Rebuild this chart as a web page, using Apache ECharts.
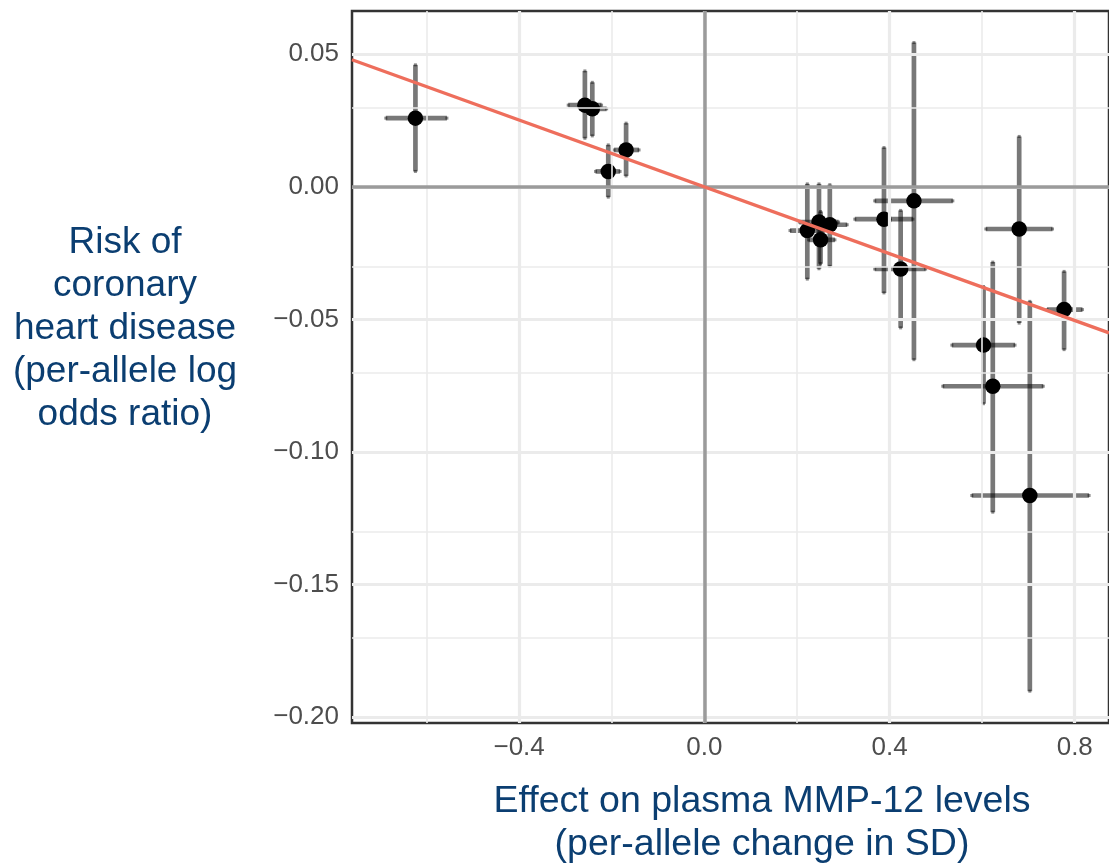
<!DOCTYPE html>
<html>
<head>
<meta charset="utf-8">
<script src="https://cdn.jsdelivr.net/npm/echarts@6/dist/echarts.min.js"></script>
<style>
  html, body { margin: 0; padding: 0; background: #fff; }
  #chart { width: 1109px; height: 863px; }
</style>
</head>
<body>
<div id="chart"></div>
<script>
// effect estimates per variant
const xVals = [-0.624, -0.258, -0.242, -0.2075, -0.169, 0.2224, 0.2476, 0.271, 0.251, 0.388, 0.4527, 0.424, 0.680, 0.777, 0.603, 0.623, 0.703];
const yVals = [0.0259, 0.0308, 0.0294, 0.0058, 0.0139, -0.0165, -0.0133, -0.0143, -0.020, -0.0122, -0.0053, -0.031, -0.0159, -0.0463, -0.0597, -0.0752, -0.1164];
const xLow  = [-0.688, -0.294, -0.253, -0.235, -0.195, 0.185, 0.205, 0.235, 0.225, 0.325, 0.368, 0.368, 0.608, 0.740, 0.5346, 0.515, 0.5776];
const xHigh = [-0.556, -0.222, -0.211, -0.182, -0.141, 0.26, 0.29, 0.3085, 0.282, 0.4506, 0.5367, 0.478, 0.752, 0.8166, 0.671, 0.732, 0.831];
const yLow  = [0.0058, 0.0183, 0.0192, -0.0039, 0.0041, -0.0348, -0.0309, -0.030, -0.029, -0.040, -0.0652, -0.0532, -0.0514, -0.0614, -0.0818, -0.1227, -0.1902];
const yHigh = [0.0460, 0.0437, 0.0394, 0.0158, 0.0240, 0.0011, 0.0011, 0.0008, -0.0093, 0.0148, 0.0544, -0.0089, 0.019, -0.0319, -0.0376, -0.0284, -0.0432];

// fitted slope (line through origin)
const slope = -0.063;

const xTicks = [-0.4, 0, 0.4, 0.8];
const xMinor = [-0.6, -0.2, 0.2, 0.6];
const yTicks = [0.05, 0, -0.05, -0.1, -0.15, -0.2];
const yMinor = [0.025, -0.025, -0.075, -0.125, -0.175];

const xMin = -0.761, xMax = 0.874;
const yMin = -0.2022, yMax = 0.0663;

const fontFamily = '"Liberation Sans", Arial, sans-serif';
const titleColor = '#0b3e71';
const signed = (v, d) => (v < -1e-9 ? '\u2212' : '') + Math.abs(v).toFixed(d);

const chart = echarts.init(document.getElementById('chart'));

const points = xVals.map((x, i) => [x, yVals[i]]);
const bars = xVals.map((x, i) => [x, yVals[i], xLow[i], xHigh[i], yLow[i], yHigh[i]]);

const gridLines = [];
xMinor.forEach(v => gridLines.push({ xAxis: v, lineStyle: { color: '#ebebeb', width: 1.6, type: 'solid' } }));
yMinor.forEach(v => gridLines.push({ yAxis: v, lineStyle: { color: '#ebebeb', width: 1.6, type: 'solid' } }));
xTicks.forEach(v => gridLines.push({ xAxis: v, lineStyle: { color: '#ebebeb', width: 3.2, type: 'solid' } }));
yTicks.forEach(v => gridLines.push({ yAxis: v, lineStyle: { color: '#ebebeb', width: 3.2, type: 'solid' } }));

const zeroLines = [
  { xAxis: 0, lineStyle: { color: '#9b9b9b', width: 3.5, type: 'solid' } },
  { yAxis: 0, lineStyle: { color: '#9b9b9b', width: 3.5, type: 'solid' } }
];

const barColor = 'rgba(0,0,0,0.53)';
const capColor = 'rgba(0,0,0,0.45)';

const option = {
  animation: false,
  backgroundColor: '#fff',
  grid: {
    left: 352, top: 11, width: 760, height: 712,
    show: true, borderColor: '#333', borderWidth: 2.5, backgroundColor: 'transparent'
  },
  xAxis: {
    type: 'value', min: xMin, max: xMax,
    axisLine: { show: false },
    axisTick: { show: true, customValues: xTicks, length: 7, lineStyle: { color: '#333', width: 2.5 } },
    axisLabel: {
      customValues: xTicks, margin: 12,
      color: '#4d4d4d', fontSize: 26, fontFamily: fontFamily,
      formatter: v => signed(v, 1)
    },
    splitLine: { show: false }
  },
  yAxis: {
    type: 'value', min: yMin, max: yMax,
    axisLine: { show: false },
    axisTick: { show: true, customValues: yTicks, length: 7, lineStyle: { color: '#333', width: 2.5 } },
    axisLabel: {
      customValues: yTicks, margin: 13,
      color: '#4d4d4d', fontSize: 26, fontFamily: fontFamily,
      formatter: v => signed(v, 2)
    },
    splitLine: { show: false }
  },
  graphic: [
    {
      type: 'text', z: 10,
      style: {
        text: 'Risk of\ncoronary\nheart disease\n(per-allele log\nodds ratio)',
        x: 125, y: 329, align: 'center', verticalAlign: 'middle',
        fontSize: 37, fontFamily: fontFamily, fill: titleColor, lineHeight: 43
      }
    },
    {
      type: 'text', z: 10,
      style: {
        text: 'Effect on plasma MMP-12 levels\n(per-allele change in SD)',
        x: 762, y: 823, align: 'center', verticalAlign: 'middle',
        fontSize: 37.5, fontFamily: fontFamily, fill: titleColor, lineHeight: 43
      }
    }
  ],
  series: [
    {
      // background grid
      type: 'line', data: [], z: 1, silent: true,
      markLine: { silent: true, symbol: 'none', label: { show: false }, animation: false, data: gridLines }
    },
    {
      type: 'line', data: [], z: 2, silent: true,
      markLine: { silent: true, symbol: 'none', label: { show: false }, animation: false, data: zeroLines }
    },
    {
      type: 'custom', z: 3, silent: true,
      data: bars,
      encode: { x: 0, y: 1 },
      renderItem: (params, api) => {
        const xl = api.coord([api.value(2), api.value(1)]);
        const xh = api.coord([api.value(3), api.value(1)]);
        const yl = api.coord([api.value(0), api.value(4)]);
        const yh = api.coord([api.value(0), api.value(5)]);
        const cap = p => ({ type: 'rect', shape: { x: p[0] - 1.5, y: p[1] - 1.5, width: 3, height: 3 }, style: { fill: capColor } });
        return {
          type: 'group',
          children: [
            { type: 'line', shape: { x1: xl[0], y1: xl[1], x2: xh[0], y2: xh[1] }, style: { stroke: barColor, lineWidth: 4.7 } },
            { type: 'line', shape: { x1: yl[0], y1: yl[1], x2: yh[0], y2: yh[1] }, style: { stroke: barColor, lineWidth: 4.7 } },
            cap(xl), cap(xh), cap(yl), cap(yh)
          ]
        };
      }
    },
    {
      type: 'scatter', z: 4, silent: true,
      data: points, symbol: 'circle', symbolSize: 15.5,
      itemStyle: { color: '#000', opacity: 1 }
    },
    {
      type: 'line', z: 5, silent: true,
      data: [[xMin, slope * xMin], [xMax, slope * xMax]],
      showSymbol: false, symbol: 'none',
      lineStyle: { color: '#ee6e5c', width: 3.3 }
    }
  ]
};

chart.setOption(option);
</script>
</body>
</html>
